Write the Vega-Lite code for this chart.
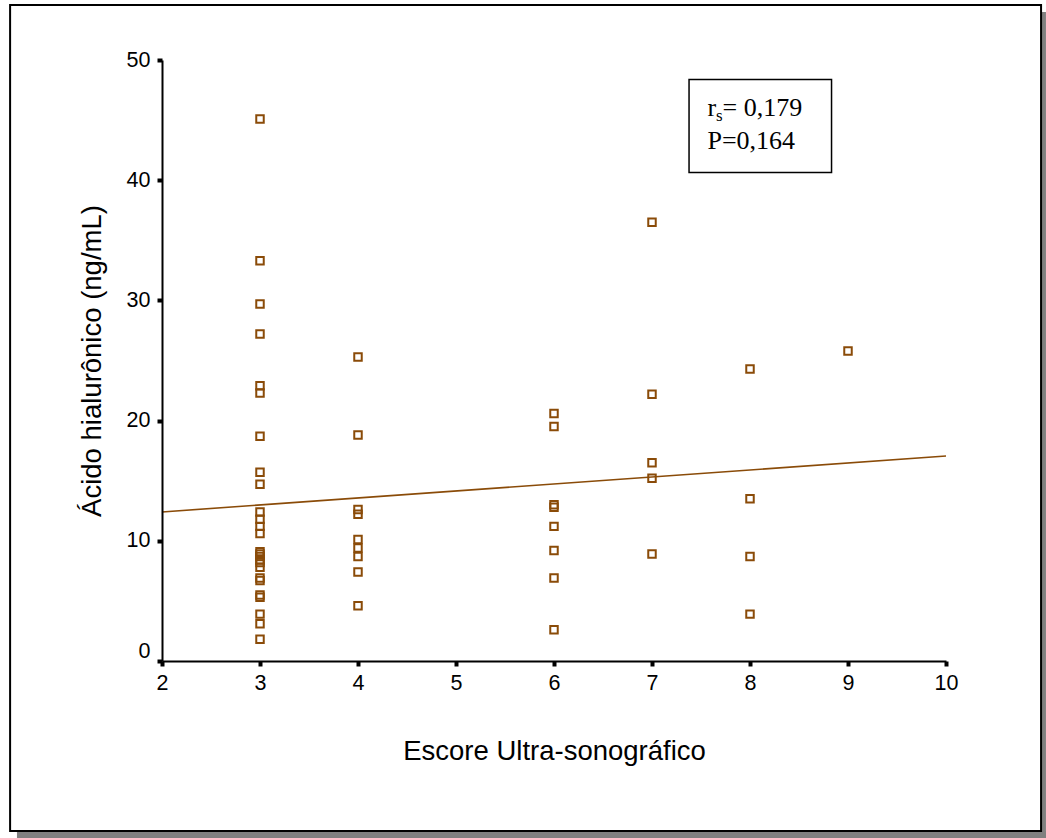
{
  "$schema": "https://vega.github.io/schema/vega-lite/v6.json",
  "width": 784,
  "height": 601,
  "autosize": {"type": "none"},
  "padding": {"left": 162, "top": 60, "right": 100, "bottom": 177},
  "background": "white",
  "config": {
    "view": {"stroke": null},
    "axis": {
      "grid": false,
      "domainColor": "black",
      "domainWidth": 2,
      "tickColor": "black",
      "tickWidth": 4,
      "tickSize": 5,
      "labelFont": "Liberation Sans",
      "labelFontSize": 21.5,
      "labelColor": "black",
      "labelFlush": false,
      "titleFont": "Liberation Sans",
      "titleFontSize": 27.5,
      "titleFontWeight": "normal",
      "titleColor": "black"
    }
  },
  "datasets": {
    "points": [
      {"score": 3, "ha": 45.1}, {"score": 3, "ha": 33.3}, {"score": 3, "ha": 29.7}, {"score": 3, "ha": 27.2},
      {"score": 3, "ha": 22.9}, {"score": 3, "ha": 22.3}, {"score": 3, "ha": 18.7}, {"score": 3, "ha": 15.7},
      {"score": 3, "ha": 14.7}, {"score": 3, "ha": 12.4}, {"score": 3, "ha": 11.8}, {"score": 3, "ha": 11.2},
      {"score": 3, "ha": 10.6}, {"score": 3, "ha": 9.1}, {"score": 3, "ha": 8.9}, {"score": 3, "ha": 8.7},
      {"score": 3, "ha": 8.4}, {"score": 3, "ha": 8.2}, {"score": 3, "ha": 7.8}, {"score": 3, "ha": 6.9},
      {"score": 3, "ha": 6.7}, {"score": 3, "ha": 5.5}, {"score": 3, "ha": 5.3}, {"score": 3, "ha": 3.9},
      {"score": 3, "ha": 3.1}, {"score": 3, "ha": 1.8},
      {"score": 4, "ha": 25.3}, {"score": 4, "ha": 18.8}, {"score": 4, "ha": 12.6}, {"score": 4, "ha": 12.2},
      {"score": 4, "ha": 10.1}, {"score": 4, "ha": 9.4}, {"score": 4, "ha": 8.7}, {"score": 4, "ha": 7.4},
      {"score": 4, "ha": 4.6},
      {"score": 6, "ha": 20.6}, {"score": 6, "ha": 19.5}, {"score": 6, "ha": 13.0}, {"score": 6, "ha": 12.8},
      {"score": 6, "ha": 11.2}, {"score": 6, "ha": 9.2}, {"score": 6, "ha": 6.9}, {"score": 6, "ha": 2.6},
      {"score": 7, "ha": 36.5}, {"score": 7, "ha": 22.2}, {"score": 7, "ha": 16.5}, {"score": 7, "ha": 15.2},
      {"score": 7, "ha": 8.9},
      {"score": 8, "ha": 24.3}, {"score": 8, "ha": 13.5}, {"score": 8, "ha": 8.7}, {"score": 8, "ha": 3.9},
      {"score": 9, "ha": 25.8}
    ],
    "fit": [
      {"score": 2, "ha": 12.4},
      {"score": 10, "ha": 17.05}
    ]
  },
  "layer": [
    {
      "data": {"values": [{}]},
      "mark": {"type": "rect", "fill": "#808080", "stroke": null},
      "encoding": {
        "x": {"datum": 10.97, "type": "quantitative", "scale": {"domain": [2, 10], "nice": false, "zero": false},
          "axis": {"values": [2, 3, 4, 5, 6, 7, 8, 9, 10], "title": "Escore Ultra-sonográfico", "labelPadding": 6, "titlePadding": 44, "zindex": 1}},
        "x2": {"datum": 11.02},
        "y": {"datum": 54.0, "type": "quantitative", "scale": {"domain": [0, 50], "nice": false, "zero": false},
          "axis": {"values": [0, 10, 20, 30, 40, 50], "title": "Ácido hialurônico (ng/mL)", "labelPadding": 7, "titlePadding": 20, "zindex": 1, "labelOffset": {"expr": "datum.value === 0 ? -10 : 0"}}},
        "y2": {"datum": -14.75}
      }
    },
    {
      "data": {"values": [{}]},
      "mark": {"type": "rect", "fill": "#808080", "stroke": null},
      "encoding": {
        "x": {"datum": 0.52, "type": "quantitative", "scale": {"domain": [2, 10], "nice": false, "zero": false},
          "axis": {"values": [2, 3, 4, 5, 6, 7, 8, 9, 10], "title": "Escore Ultra-sonográfico", "labelPadding": 6, "titlePadding": 44, "zindex": 1}},
        "x2": {"datum": 11.02},
        "y": {"datum": -14.14, "type": "quantitative", "scale": {"domain": [0, 50], "nice": false, "zero": false},
          "axis": {"values": [0, 10, 20, 30, 40, 50], "title": "Ácido hialurônico (ng/mL)", "labelPadding": 7, "titlePadding": 20, "zindex": 1, "labelOffset": {"expr": "datum.value === 0 ? -10 : 0"}}},
        "y2": {"datum": -14.75}
      }
    },
    {
      "data": {"values": [{}]},
      "mark": {"type": "rect", "fill": null, "fillOpacity": 0, "stroke": "black", "strokeWidth": 2},
      "encoding": {
        "x": {"datum": 0.45, "type": "quantitative", "scale": {"domain": [2, 10], "nice": false, "zero": false},
          "axis": {"values": [2, 3, 4, 5, 6, 7, 8, 9, 10], "title": "Escore Ultra-sonográfico", "labelPadding": 6, "titlePadding": 44, "zindex": 1}},
        "x2": {"datum": 10.97},
        "y": {"datum": 54.58, "type": "quantitative", "scale": {"domain": [0, 50], "nice": false, "zero": false},
          "axis": {"values": [0, 10, 20, 30, 40, 50], "title": "Ácido hialurônico (ng/mL)", "labelPadding": 7, "titlePadding": 20, "zindex": 1, "labelOffset": {"expr": "datum.value === 0 ? -10 : 0"}}},
        "y2": {"datum": -14.14}
      }
    },
    {
      "data": {"name": "fit"},
      "mark": {"type": "line", "color": "#8a4b08", "strokeWidth": 1.6},
      "encoding": {
        "x": {"field": "score", "type": "quantitative", "scale": {"domain": [2, 10], "nice": false, "zero": false},
          "axis": {"values": [2, 3, 4, 5, 6, 7, 8, 9, 10], "title": "Escore Ultra-sonográfico", "labelPadding": 6, "titlePadding": 44, "zindex": 1}},
        "y": {"field": "ha", "type": "quantitative", "scale": {"domain": [0, 50], "nice": false, "zero": false},
          "axis": {"values": [0, 10, 20, 30, 40, 50], "title": "Ácido hialurônico (ng/mL)", "labelPadding": 7, "titlePadding": 20, "zindex": 1, "labelOffset": {"expr": "datum.value === 0 ? -10 : 0"}}}
      }
    },
    {
      "data": {"name": "points"},
      "mark": {"type": "point", "shape": "square", "filled": false, "color": "#8a4b08", "strokeWidth": 2, "size": 56, "opacity": 1},
      "encoding": {
        "x": {"field": "score", "type": "quantitative", "scale": {"domain": [2, 10], "nice": false, "zero": false},
          "axis": {"values": [2, 3, 4, 5, 6, 7, 8, 9, 10], "title": "Escore Ultra-sonográfico", "labelPadding": 6, "titlePadding": 44, "zindex": 1}},
        "y": {"field": "ha", "type": "quantitative", "scale": {"domain": [0, 50], "nice": false, "zero": false},
          "axis": {"values": [0, 10, 20, 30, 40, 50], "title": "Ácido hialurônico (ng/mL)", "labelPadding": 7, "titlePadding": 20, "zindex": 1, "labelOffset": {"expr": "datum.value === 0 ? -10 : 0"}}}
      }
    },
    {
      "data": {"values": [{}]},
      "mark": {"type": "rect", "fill": "white", "stroke": "black", "strokeWidth": 1.5},
      "encoding": {
        "x": {"datum": 7.378, "type": "quantitative", "scale": {"domain": [2, 10], "nice": false, "zero": false},
          "axis": {"values": [2, 3, 4, 5, 6, 7, 8, 9, 10], "title": "Escore Ultra-sonográfico", "labelPadding": 6, "titlePadding": 44, "zindex": 1}},
        "x2": {"datum": 8.832},
        "y": {"datum": 48.38, "type": "quantitative", "scale": {"domain": [0, 50], "nice": false, "zero": false},
          "axis": {"values": [0, 10, 20, 30, 40, 50], "title": "Ácido hialurônico (ng/mL)", "labelPadding": 7, "titlePadding": 20, "zindex": 1, "labelOffset": {"expr": "datum.value === 0 ? -10 : 0"}}},
        "y2": {"datum": 40.64}
      }
    },
    {
      "data": {"values": [{}]},
      "mark": {"type": "text", "font": "Liberation Serif", "fontSize": 26, "align": "left", "baseline": "alphabetic", "color": "black"},
      "encoding": {
        "x": {"datum": 7.566, "type": "quantitative", "scale": {"domain": [2, 10], "nice": false, "zero": false},
          "axis": {"values": [2, 3, 4, 5, 6, 7, 8, 9, 10], "title": "Escore Ultra-sonográfico", "labelPadding": 6, "titlePadding": 44, "zindex": 1}},
        "y": {"datum": 45.3, "type": "quantitative", "scale": {"domain": [0, 50], "nice": false, "zero": false},
          "axis": {"values": [0, 10, 20, 30, 40, 50], "title": "Ácido hialurônico (ng/mL)", "labelPadding": 7, "titlePadding": 20, "zindex": 1, "labelOffset": {"expr": "datum.value === 0 ? -10 : 0"}}},
        "text": {"value": "r"}
      }
    },
    {
      "data": {"values": [{}]},
      "mark": {"type": "text", "font": "Liberation Serif", "fontSize": 17, "align": "left", "baseline": "alphabetic", "color": "black"},
      "encoding": {
        "x": {"datum": 7.652, "type": "quantitative", "scale": {"domain": [2, 10], "nice": false, "zero": false},
          "axis": {"values": [2, 3, 4, 5, 6, 7, 8, 9, 10], "title": "Escore Ultra-sonográfico", "labelPadding": 6, "titlePadding": 44, "zindex": 1}},
        "y": {"datum": 44.95, "type": "quantitative", "scale": {"domain": [0, 50], "nice": false, "zero": false},
          "axis": {"values": [0, 10, 20, 30, 40, 50], "title": "Ácido hialurônico (ng/mL)", "labelPadding": 7, "titlePadding": 20, "zindex": 1, "labelOffset": {"expr": "datum.value === 0 ? -10 : 0"}}},
        "text": {"value": "s"}
      }
    },
    {
      "data": {"values": [{}]},
      "mark": {"type": "text", "font": "Liberation Serif", "fontSize": 26, "align": "left", "baseline": "alphabetic", "color": "black"},
      "encoding": {
        "x": {"datum": 7.72, "type": "quantitative", "scale": {"domain": [2, 10], "nice": false, "zero": false},
          "axis": {"values": [2, 3, 4, 5, 6, 7, 8, 9, 10], "title": "Escore Ultra-sonográfico", "labelPadding": 6, "titlePadding": 44, "zindex": 1}},
        "y": {"datum": 45.3, "type": "quantitative", "scale": {"domain": [0, 50], "nice": false, "zero": false},
          "axis": {"values": [0, 10, 20, 30, 40, 50], "title": "Ácido hialurônico (ng/mL)", "labelPadding": 7, "titlePadding": 20, "zindex": 1, "labelOffset": {"expr": "datum.value === 0 ? -10 : 0"}}},
        "text": {"value": "= 0,179"}
      }
    },
    {
      "data": {"values": [{}]},
      "mark": {"type": "text", "font": "Liberation Serif", "fontSize": 26, "align": "left", "baseline": "alphabetic", "color": "black"},
      "encoding": {
        "x": {"datum": 7.566, "type": "quantitative", "scale": {"domain": [2, 10], "nice": false, "zero": false},
          "axis": {"values": [2, 3, 4, 5, 6, 7, 8, 9, 10], "title": "Escore Ultra-sonográfico", "labelPadding": 6, "titlePadding": 44, "zindex": 1}},
        "y": {"datum": 42.62, "type": "quantitative", "scale": {"domain": [0, 50], "nice": false, "zero": false},
          "axis": {"values": [0, 10, 20, 30, 40, 50], "title": "Ácido hialurônico (ng/mL)", "labelPadding": 7, "titlePadding": 20, "zindex": 1, "labelOffset": {"expr": "datum.value === 0 ? -10 : 0"}}},
        "text": {"value": "P=0,164"}
      }
    }
  ]
}
